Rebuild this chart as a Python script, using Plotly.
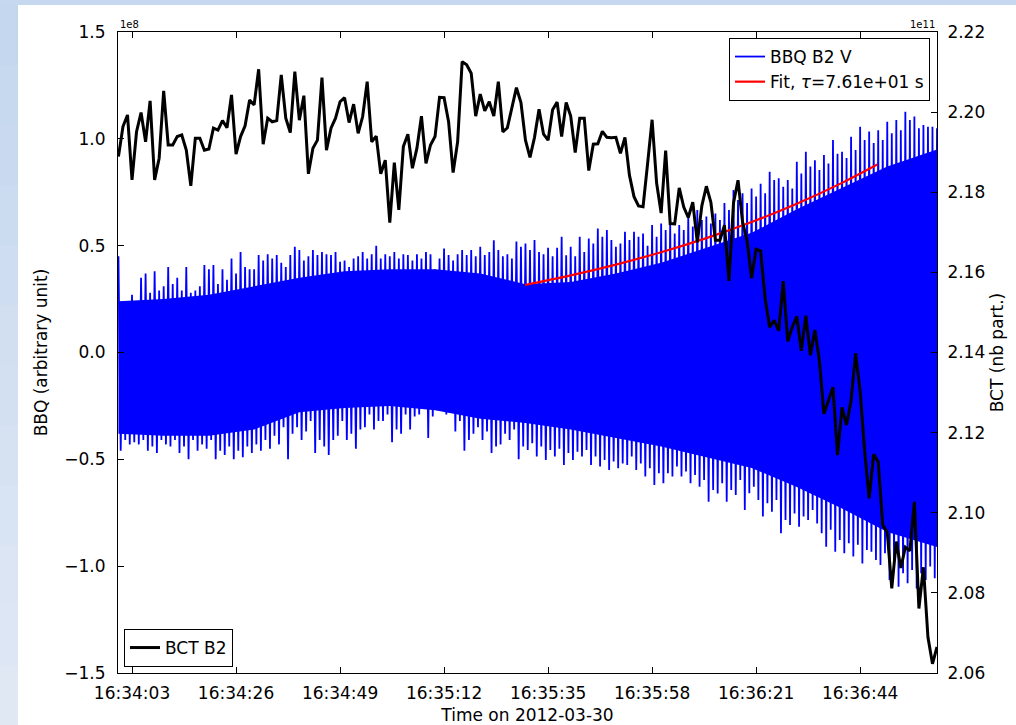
import plotly.graph_objects as go
import pandas as pd

# ---------------- data ----------------
T0 = pd.Timestamp("2012-03-30 16:34:00")

# BCT B2 intensity, 1e11 particles, sampled every second from 16:34:00
bct_values = [
    2.1889, 2.1964, 2.1993, 2.1831, 2.1951, 2.1999, 2.1926, 2.2028, 2.1831, 2.1885,
    2.2053, 2.1918, 2.1918, 2.1939, 2.1943, 2.1905, 2.1816, 2.1935, 2.1935, 2.1905,
    2.1908, 2.1960, 2.1955, 2.1979, 2.1961, 2.2043, 2.1895, 2.1939, 2.1966, 2.2030,
    2.2018, 2.2107, 2.1920, 2.1985, 2.1976, 2.1979, 2.2093, 2.1985, 2.1949, 2.2101,
    2.1980, 2.2041, 2.1846, 2.1910, 2.1930, 2.2086, 2.1905, 2.1960, 2.1985, 2.2026,
    2.2036, 2.1974, 2.2020, 2.1947, 2.1989, 2.2076, 2.1926, 2.1940, 2.1846, 2.1880,
    2.1724, 2.1874, 2.1756, 2.1914, 2.1945, 2.1860, 2.1910, 2.1990, 2.1872, 2.1918,
    2.1939, 2.2037, 2.2036, 2.1976, 2.1849, 2.1926, 2.2126, 2.2118, 2.2097, 2.1990,
    2.2045, 2.2003, 2.2026, 2.1990, 2.2076, 2.1951, 2.1961, 2.2010, 2.2061, 2.2024,
    2.1930, 2.1887, 2.1937, 2.2007, 2.1945, 2.1930, 2.2006, 2.2025, 2.1939, 2.2024,
    2.1990, 2.1899, 2.1985, 2.1985, 2.1854, 2.1920, 2.1921, 2.1952, 2.1937, 2.1936,
    2.1937, 2.1897, 2.1937, 2.1842, 2.1789, 2.1766, 2.1764, 2.1871, 2.1981, 2.1823,
    2.1748, 2.1904, 2.1722, 2.1721, 2.1811, 2.1763, 2.1737, 2.1775, 2.1675, 2.1766,
    2.1815, 2.1775, 2.1680, 2.1680, 2.1718, 2.1579, 2.1773, 2.1830, 2.1726, 2.1680,
    2.1585, 2.1658, 2.1653, 2.1534, 2.1463, 2.1480, 2.1454, 2.1578, 2.1428, 2.1463,
    2.1490, 2.1404, 2.1492, 2.1393, 2.1456, 2.1379, 2.1247, 2.1280, 2.1313, 2.1144,
    2.1263, 2.1219, 2.1280, 2.1398, 2.1304, 2.1154, 2.1036, 2.1146, 2.1127, 2.0970,
    2.0951, 2.0811, 2.0928, 2.0862, 2.0914, 2.0905, 2.1027, 2.0761, 2.0864, 2.0689,
    2.0623, 2.0665,
]

# BBQ B2 V signal (1e8 arbitrary units): highest / lowest excursion in each second
bbq_upper = [
    0.45, 0.21, 0.24, 0.27, 0.23, 0.35, 0.37, 0.28, 0.38, 0.29,
    0.31, 0.40, 0.32, 0.35, 0.29, 0.40, 0.28, 0.29, 0.31, 0.41,
    0.39, 0.41, 0.32, 0.39, 0.34, 0.44, 0.37, 0.47, 0.40, 0.39,
    0.39, 0.456, 0.43, 0.46, 0.44, 0.456, 0.42, 0.40, 0.456, 0.495,
    0.48, 0.43, 0.45, 0.48, 0.456, 0.47,
    0.46, 0.456, 0.47, 0.425, 0.43, 0.40, 0.44, 0.45, 0.47, 0.44,
    0.46, 0.50, 0.44, 0.46, 0.45, 0.47, 0.44, 0.46, 0.456, 0.43,
    0.46, 0.44, 0.47, 0.46, 0.39, 0.44, 0.487, 0.456, 0.43, 0.46,
    0.48, 0.456, 0.48, 0.45, 0.495, 0.456, 0.47, 0.525, 0.48, 0.45,
    0.46, 0.44, 0.52, 0.495,
    0.51, 0.48, 0.526, 0.47, 0.46, 0.49, 0.45, 0.49, 0.542, 0.455,
    0.495, 0.45, 0.542, 0.47, 0.534, 0.51, 0.58, 0.542, 0.573, 0.526,
    0.495, 0.51, 0.565, 0.526, 0.565, 0.542, 0.557, 0.50, 0.597, 0.542,
    0.604, 0.573, 0.612, 0.557, 0.597, 0.573, 0.643, 0.59, 0.667, 0.62,
    0.636, 0.604, 0.65, 0.62, 0.70, 0.667,
    0.76, 0.714, 0.745, 0.70, 0.768, 0.73, 0.79, 0.745, 0.846, 0.807,
    0.815, 0.776, 0.807, 0.768, 0.893, 0.838, 0.94, 0.87, 0.90, 0.854,
    0.924, 0.885, 0.995, 0.93, 0.94, 0.91, 1.01, 0.948, 1.057, 0.995,
    1.034, 0.98, 1.04, 0.995, 1.08, 1.026, 1.088, 1.04, 1.127, 1.088,
    1.104, 1.05, 1.065, 1.057, 1.057, 1.05,
]
bbq_lower = [
    -0.46, -0.41, -0.43, -0.42, -0.43, -0.41, -0.46, -0.44, -0.47, -0.41,
    -0.43, -0.44, -0.41, -0.47, -0.44, -0.50, -0.41, -0.46, -0.43, -0.45,
    -0.41, -0.50, -0.46, -0.48, -0.44, -0.50, -0.46, -0.49, -0.44, -0.47,
    -0.43, -0.46, -0.41, -0.45, -0.39, -0.43, -0.35, -0.50, -0.38, -0.35,
    -0.41, -0.37, -0.32, -0.47, -0.41, -0.44,
    -0.48, -0.41, -0.39, -0.32, -0.41, -0.38, -0.45, -0.36, -0.35, -0.29,
    -0.36, -0.32, -0.32, -0.29, -0.42, -0.36, -0.38, -0.29, -0.36, -0.30,
    -0.29, -0.24, -0.40, -0.30, -0.27, -0.22, -0.29, -0.24, -0.37, -0.32,
    -0.46, -0.41, -0.38, -0.35, -0.41, -0.37, -0.47, -0.44, -0.43, -0.38,
    -0.41, -0.36, -0.50, -0.44,
    -0.456, -0.425, -0.487, -0.44, -0.503, -0.456, -0.487, -0.45, -0.526, -0.47,
    -0.503, -0.465, -0.487, -0.456, -0.526, -0.487, -0.534, -0.503, -0.55, -0.51,
    -0.542, -0.519, -0.526, -0.487, -0.55, -0.519, -0.58, -0.542, -0.62, -0.565,
    -0.612, -0.565, -0.58, -0.534, -0.58, -0.557, -0.612, -0.573, -0.628, -0.597,
    -0.698, -0.643, -0.66, -0.612, -0.698, -0.643,
    -0.667, -0.597, -0.737, -0.659, -0.628, -0.69, -0.768, -0.706, -0.745, -0.69,
    -0.846, -0.784, -0.807, -0.753, -0.815, -0.768, -0.784, -0.737, -0.80, -0.846,
    -0.909, -0.83, -0.932, -0.878, -0.94, -0.893, -0.955, -0.90, -0.987, -0.924,
    -0.932, -0.971, -0.994, -0.94, -1.065, -1.002, -1.096, -1.033, -1.08, -1.018,
    -1.104, -1.033, -1.065, -1.002, -1.057, -1.033,
]
# dense core of the BBQ oscillation (where the trace is almost solid), every 10 s
core_seconds = [0, 10, 20, 30, 40, 50, 60, 70, 80, 90, 100, 110, 120, 130, 140, 150, 160, 170, 181]
core_upper = [0.24, 0.25, 0.27, 0.31, 0.35, 0.38, 0.39, 0.39, 0.37, 0.32,
              0.33, 0.37, 0.42, 0.49, 0.56, 0.67, 0.77, 0.87, 0.95]
core_lower = [-0.38, -0.39, -0.39, -0.36, -0.28, -0.26, -0.25, -0.27, -0.31, -0.33,
              -0.36, -0.40, -0.44, -0.49, -0.54, -0.63, -0.73, -0.84, -0.91]

# exponential fit curve (1e8 units)
fit_seconds = [89.9, 100, 110, 120, 130, 140, 150, 160, 167.8]
fit_values = [0.3160, 0.3609, 0.4115, 0.4693, 0.5352, 0.6104, 0.6962, 0.7939, 0.8796]

x_tick_labels = ["16:34:03", "16:34:26", "16:34:49", "16:35:12",
                 "16:35:35", "16:35:58", "16:36:21", "16:36:44"]
left_ticks = [-1.5, -1.0, -0.5, 0.0, 0.5, 1.0, 1.5]
right_ticks = [2.06, 2.08, 2.10, 2.12, 2.14, 2.16, 2.18, 2.20, 2.22]

# ---------------- build ----------------
def at(sec):
    return T0 + pd.to_timedelta(sec, unit="s")

bct_time = [at(i) for i in range(len(bct_values))]

zig_t, zig_v = [], []
for k, (u, l) in enumerate(zip(bbq_upper, bbq_lower)):
    zig_t += [at(k), at(k + 0.5)]
    zig_v += [u, l]

core_t = [at(s) for s in core_seconds]
tick_times = [at(3 + 23 * i) for i in range(len(x_tick_labels))]

FONT = "DejaVu Sans"
BLUE = "rgb(0,0,255)"

fig = go.Figure()
fig.add_trace(go.Scatter(x=core_t, y=core_lower, mode="lines", line=dict(width=0),
                         showlegend=False, hoverinfo="skip", yaxis="y"))
fig.add_trace(go.Scatter(x=core_t, y=core_upper, mode="lines", line=dict(width=0),
                         fill="tonexty", fillcolor=BLUE, showlegend=False,
                         hoverinfo="skip", yaxis="y"))
fig.add_trace(go.Scatter(x=zig_t, y=zig_v, mode="lines", name="BBQ B2 V",
                         line=dict(color=BLUE, width=1.8), yaxis="y"))
fig.add_trace(go.Scatter(x=[at(s) for s in fit_seconds], y=fit_values, mode="lines",
                         name="Fit, <i>τ</i>=7.61e+01 s",
                         line=dict(color="red", width=2.2, shape="spline"), yaxis="y"))
fig.add_trace(go.Scatter(x=bct_time, y=bct_values, mode="lines", name="BCT B2",
                         line=dict(color="black", width=3), yaxis="y2", legend="legend2"))

L, R, T, B = 118, 79, 32, 52
W, H = 1016, 725
pw, ph = W - L - R, H - T - B

def px(xp):
    return (xp - L) / pw

def py(yp):
    return (H - B - yp) / ph

shapes = [
    dict(type="rect", xref="paper", yref="paper", x0=px(18), x1=px(W + 5),
         y0=py(H + 5), y1=py(5), fillcolor="white", line=dict(width=0), layer="below"),
]
# soft gradient on the left strip
n = 12
c0, c1 = (196, 215, 239), (224, 232, 244)
for i in range(n):
    f = i / (n - 1)
    col = "rgb(%d,%d,%d)" % tuple(round(a + (b - a) * f) for a, b in zip(c0, c1))
    y_top = 5 + (H - 5) * i / n
    y_bot = 5 + (H - 5) * (i + 1) / n
    shapes.append(dict(type="rect", xref="paper", yref="paper", x0=px(-5), x1=px(18),
                       y0=py(y_bot + 1), y1=py(y_top), fillcolor=col,
                       line=dict(width=0), layer="below"))

axis_common = dict(showline=True, linecolor="black", linewidth=1, ticks="inside",
                   ticklen=6, tickcolor="black", showgrid=False, zeroline=False,
                   automargin=False,
                   tickfont=dict(family=FONT, size=17, color="black"))

fig.update_layout(
    width=W, height=H,
    margin=dict(l=L, r=R, t=T, b=B, pad=0),
    paper_bgcolor="rgb(197,216,239)",
    plot_bgcolor="white",
    font=dict(family=FONT, size=17, color="black"),
    shapes=shapes,
    xaxis=dict(**axis_common, type="date", mirror="ticks",
               range=[at(-0.1), at(181.0)],
               tickmode="array", tickvals=tick_times, ticktext=x_tick_labels,
               ticklabelstandoff=5,
               title=dict(text="Time on 2012-03-30", standoff=6,
                          font=dict(family=FONT, size=17))),
    yaxis=dict(**axis_common, range=[-1.5, 1.5], tickmode="array", tickvals=left_ticks,
               tickformat=".1f", ticklabelstandoff=8,
               title=dict(text="BBQ (arbitrary unit)", standoff=12,
                          font=dict(family=FONT, size=17))),
    yaxis2=dict(**axis_common, overlaying="y", side="right", range=[2.06, 2.22],
                tickmode="array", tickvals=right_ticks, tickformat=".2f",
                ticklabelstandoff=6,
                title=dict(text="BCT (nb part.)", standoff=6,
                           font=dict(family=FONT, size=17))),
    legend=dict(x=px(930), y=py(38), xanchor="right", yanchor="top",
                bgcolor="white", bordercolor="black", borderwidth=1,
                font=dict(family=FONT, size=17), tracegroupgap=0,
                traceorder="normal", itemwidth=30),
    legend2=dict(x=px(124), y=py(667), xanchor="left", yanchor="bottom",
                 bgcolor="white", bordercolor="black", borderwidth=1,
                 font=dict(family=FONT, size=17), itemwidth=30),
    annotations=[
        dict(text="1e8", xref="paper", yref="paper", x=0, y=py(32), xanchor="left",
             yanchor="bottom", showarrow=False, font=dict(family=FONT, size=10)),
        dict(text="1e11", xref="paper", yref="paper", x=1, y=py(32), xanchor="right",
             yanchor="bottom", showarrow=False, font=dict(family=FONT, size=10)),
    ],
)

fig.write_html("out.html")
